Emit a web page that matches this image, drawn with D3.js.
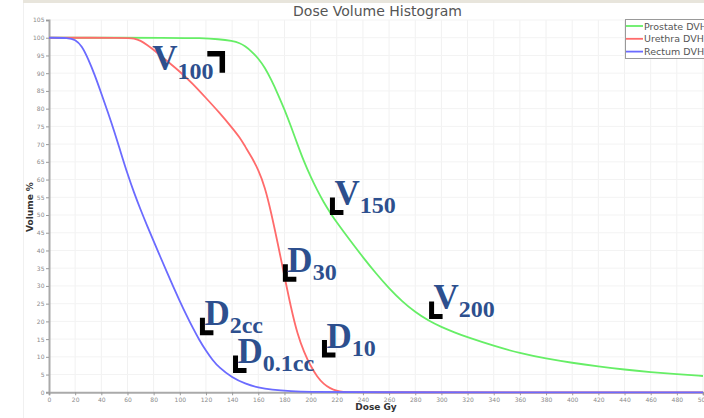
<!DOCTYPE html>
<html><head><meta charset="utf-8">
<script src="https://cdn.jsdelivr.net/npm/d3@7/dist/d3.min.js"></script>
<style>
html,body{margin:0;padding:0;background:#fff;}
svg{display:block;}
</style></head>
<body><svg id="chart" width="704" height="418"></svg>
<script>
// ---------- data ----------
const xTicks = d3.range(0, 501, 20);
const yTicks = d3.range(0, 106, 5);

const prostateDose = [0,100,115,130,140,146,150,155,160,165,170,175,180,185,190,195,200,205,210,215,220,230,240,250,260,270,280,290,300,310,320,340,360,380,400,420,440,460,480,500];
const prostateVol  = [100,100,99.9,99.6,99.1,98.5,97.6,96.1,94.2,91.6,88.1,84.1,79.8,75,69.9,65,60.8,57,53.6,50.6,47.9,42.9,38.1,33.5,29.3,25.6,22.6,20.2,18.4,16.9,15.5,13.1,11,9.5,8.3,7.3,6.4,5.7,5.1,4.6];

const urethraDose = [0,60,65,70,75,80,90,100,110,120,130,140,146,150,155,160,165,170,175,180,185,190,195,200,205,210,215,220,225,230,500];
const urethraVol  = [100,100,99.8,99.2,98,96.6,93.5,90.5,87,83,79,74.6,71.8,69.3,66.3,62.8,58,50.5,41.8,32.8,23.8,16.3,11.3,7.4,4.4,2.3,1.1,0.4,0.1,0,0];

const rectumDose = [0,15,20,25,30,35,40,45,50,55,60,65,70,75,80,85,90,95,100,105,110,115,120,125,130,140,150,160,170,185,200,220,500];
const rectumVol  = [100,100,99.5,97.8,94,89.5,84.3,79,73.5,67.5,61.6,56.3,51.5,47,42.6,38.3,34,29.8,25.7,21.8,18.1,14.7,11.7,9.1,7,4.1,2.4,1.3,0.7,0.3,0.1,0,0];

const seriesNames  = ["Prostate DVH","Urethra DVH","Rectum DVH"];
const seriesColors = ["#66ee66","#ff6b6b","#6b6bff"];

// annotations: anchor = corner of the black marker (dose, volume)
const annLabels = ["V","V","V","D","D","D","D"];
const annSubs   = ["100","150","200","30","2cc","0.1cc","10"];
const annDose   = [132.5,216.7,292.5,180.7,117.3,142.6,210.6];
const annVol    = [95.5,50.7,21.4,31.9,16.8,6.15,10.5];
const annCorner = ["tr","bl","bl","bl","bl","bl","bl"];

// ---------- drawing ----------
const svg = d3.select("#chart");
const x = d3.scaleLinear([0,500],[49,703]);
const y = d3.scaleLinear([0,105],[392.3,20]);

// panel frame
svg.append("line").attr("x1",23).attr("x2",704).attr("y1",1.5).attr("y2",1.5)
  .attr("stroke","#e8e5dc").attr("stroke-width",3);
svg.append("line").attr("x1",23.5).attr("x2",23.5).attr("y1",3).attr("y2",418)
  .attr("stroke","#f0f0f0").attr("stroke-width",1);

// grid
const grid = svg.append("g");
grid.selectAll("line.v").data(xTicks.filter(d=>d>0)).join("line")
  .attr("x1",d=>x(d)).attr("x2",d=>x(d)).attr("y1",y(105)).attr("y2",y(0))
  .attr("stroke","#f1f1f1").attr("stroke-width",1);
grid.selectAll("line.h").data(yTicks.filter(d=>d>0)).join("line")
  .attr("x1",x(0)).attr("x2",704).attr("y1",d=>y(d)).attr("y2",d=>y(d))
  .attr("stroke","#f3f3f3").attr("stroke-width",1);

// axes
const fontAxis = "DejaVu Sans, sans-serif";
const yAxis = svg.append("g").attr("transform",`translate(${x(0)},0)`)
  .call(d3.axisLeft(y).tickValues(yTicks).tickSize(3).tickPadding(1.5).tickFormat(d3.format("d")));
const xAxis = svg.append("g").attr("transform",`translate(0,${y(0)})`)
  .call(d3.axisBottom(x).tickValues(xTicks).tickSize(3).tickPadding(2).tickFormat(d3.format("d")));
[yAxis,xAxis].forEach(a=>{
  a.select(".domain").attr("stroke","#aaaaaa").attr("stroke-width",2);
  a.selectAll(".tick line").attr("stroke","#999");
  a.selectAll(".tick text").attr("fill","#8a8a8a").style("font-family",fontAxis).style("font-size","6px");
});

// curves
const line = d3.line().curve(d3.curveBasis).x(d=>x(d[0])).y(d=>y(d[1]));
const series = [
  d3.zip(prostateDose, prostateVol),
  d3.zip(urethraDose, urethraVol),
  d3.zip(rectumDose, rectumVol)
];
svg.append("g").selectAll("path").data(series).join("path")
  .attr("d",line).attr("fill","none")
  .attr("stroke",(d,i)=>seriesColors[i]).attr("stroke-width",1.8);

// title & axis labels
svg.append("text").attr("x",377.5).attr("y",16).attr("text-anchor","middle")
  .style("font-family","DejaVu Sans, sans-serif").style("font-size","14px").attr("fill","#555")
  .text("Dose Volume Histogram");
svg.append("text").attr("x",376).attr("y",410).attr("text-anchor","middle")
  .style("font-family","DejaVu Sans, sans-serif").style("font-size","9px").style("font-weight","bold").attr("fill","#333")
  .text("Dose Gy");
svg.append("text").attr("transform","translate(33,207) rotate(-90)").attr("text-anchor","middle")
  .style("font-family","DejaVu Sans, sans-serif").style("font-size","9px").style("font-weight","bold").attr("fill","#333")
  .text("Volume %");

// legend
const lg = svg.append("g");
lg.append("rect").attr("x",625.5).attr("y",19.5).attr("width",110).attr("height",39)
  .attr("fill","#fff").attr("stroke","#999");
seriesNames.forEach((n,i)=>{
  const yy = 26 + i*12.8;
  lg.append("line").attr("x1",626).attr("x2",643).attr("y1",yy).attr("y2",yy)
    .attr("stroke",seriesColors[i]).attr("stroke-width",1.8);
  lg.append("text").attr("x",644).attr("y",yy+3.5)
    .style("font-family","DejaVu Sans, sans-serif").style("font-size","9.5px").attr("fill","#555").text(n);
});

// annotations
const annColor = "#2d4f8e";
const ag = svg.append("g");
annLabels.forEach((lab,i)=>{
  const cx = x(annDose[i]), cy = y(annVol[i]);
  if (annCorner[i]==="tr") {
    ag.append("path").attr("d",`M${cx-15},${cy} H${cx} V${cy+19}`)
      .attr("fill","none").attr("stroke","#000").attr("stroke-width",5.5).attr("stroke-linejoin","miter");
    const t = ag.append("text").attr("x",cx-70).attr("y",cy+16.5)
      .style("font-family","Liberation Serif, 'Times New Roman', serif").style("font-weight","bold").attr("fill",annColor);
    t.append("tspan").style("font-size","35px").text(lab);
    t.append("tspan").attr("dy",9).style("font-size","24px").text(annSubs[i]);
  } else {
    ag.append("path").attr("d",`M${cx},${cy-15} V${cy} H${cx+11}`)
      .attr("fill","none").attr("stroke","#000").attr("stroke-width",5).attr("stroke-linejoin","miter");
    const t = ag.append("text").attr("x",cx+2).attr("y",cy-7.5)
      .style("font-family","Liberation Serif, 'Times New Roman', serif").style("font-weight","bold").attr("fill",annColor);
    t.append("tspan").style("font-size","35px").text(lab);
    t.append("tspan").attr("dy",8).style("font-size","24px").text(annSubs[i]);
  }
});
</script>
</body></html>
